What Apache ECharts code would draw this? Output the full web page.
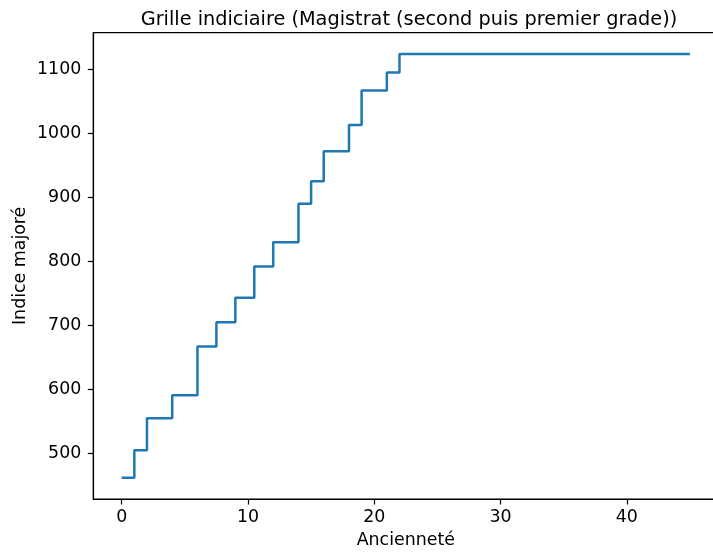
<!DOCTYPE html>
<html>
<head>
<meta charset="utf-8">
<script src="https://cdn.jsdelivr.net/npm/echarts@6/dist/echarts.min.js"></script>
<style>
html,body{margin:0;padding:0;background:#fff;}
#chart{width:713px;height:554px;}
</style>
</head>
<body>
<div id="chart"></div>
<script>
const anciennete = [0, 1, 2, 4, 6, 7.5, 9, 10.5, 12, 14, 15, 16, 18, 19, 21, 22, 45];
const indice = [462, 505, 555, 591, 667, 705, 743, 792, 830, 890, 925, 972, 1013, 1067, 1095, 1124, 1124];
const xTicks = [0, 10, 20, 30, 40];
const yTicks = [500, 600, 700, 800, 900, 1000, 1100];
const titleText = 'Grille indiciaire (Magistrat (second puis premier grade))';
const xName = 'Ancienneté';
const yName = 'Indice majoré';

const font = 'DejaVu Sans';
const chart = echarts.init(document.getElementById('chart'), null, {renderer: 'canvas'});
const data = anciennete.map((x, i) => [x, indice[i]]);
chart.setOption({
  animation: false,
  backgroundColor: '#fff',
  title: {
    text: titleText,
    left: 404, top: 5, textAlign: 'center',
    textStyle: {fontFamily: font, fontSize: 19.3, fontWeight: 'normal', color: '#000'}
  },
  grid: {
    left: 93.3, top: 32.7, width: 625, height: 466.3,
    outerBoundsMode: 'none', containLabel: false,
    show: true, borderColor: '#000', borderWidth: 1.2, backgroundColor: 'transparent'
  },
  xAxis: {
    type: 'value', min: -2.25, max: 47.25,
    name: xName, nameLocation: 'middle', nameGap: 33, nameMoveOverlap: false,
    nameTextStyle: {fontFamily: font, fontSize: 17.4, color: '#000'},
    axisLine: {show: true, onZero: false, lineStyle: {color: '#000', width: 1.2}},
    axisTick: {show: true, inside: false, length: 5.5, customValues: xTicks, lineStyle: {color: '#000', width: 1.2}},
    axisLabel: {customValues: xTicks, margin: 10, fontFamily: font, fontSize: 17.4, color: '#000', formatter: v => String(v)},
    splitLine: {show: false}
  },
  yAxis: {
    type: 'value', min: 428.9, max: 1157.1,
    name: yName, nameLocation: 'middle', nameGap: 73, nameRotate: 90, nameMoveOverlap: false,
    nameTextStyle: {fontFamily: font, fontSize: 17.4, color: '#000', align: 'center', verticalAlign: 'middle'},
    axisLine: {show: true, onZero: false, lineStyle: {color: '#000', width: 1.2}},
    axisTick: {show: true, inside: false, length: 5.5, customValues: yTicks, lineStyle: {color: '#000', width: 1.2}},
    axisLabel: {customValues: yTicks, margin: 12, fontFamily: font, fontSize: 17.4, color: '#000', formatter: v => String(v)},
    splitLine: {show: false}
  },
  series: [{
    type: 'line', step: 'end', data: data, showSymbol: false, symbol: 'none',
    lineStyle: {color: '#1f77b4', width: 2.5}, clip: false
  }]
});
</script>
</body>
</html>
